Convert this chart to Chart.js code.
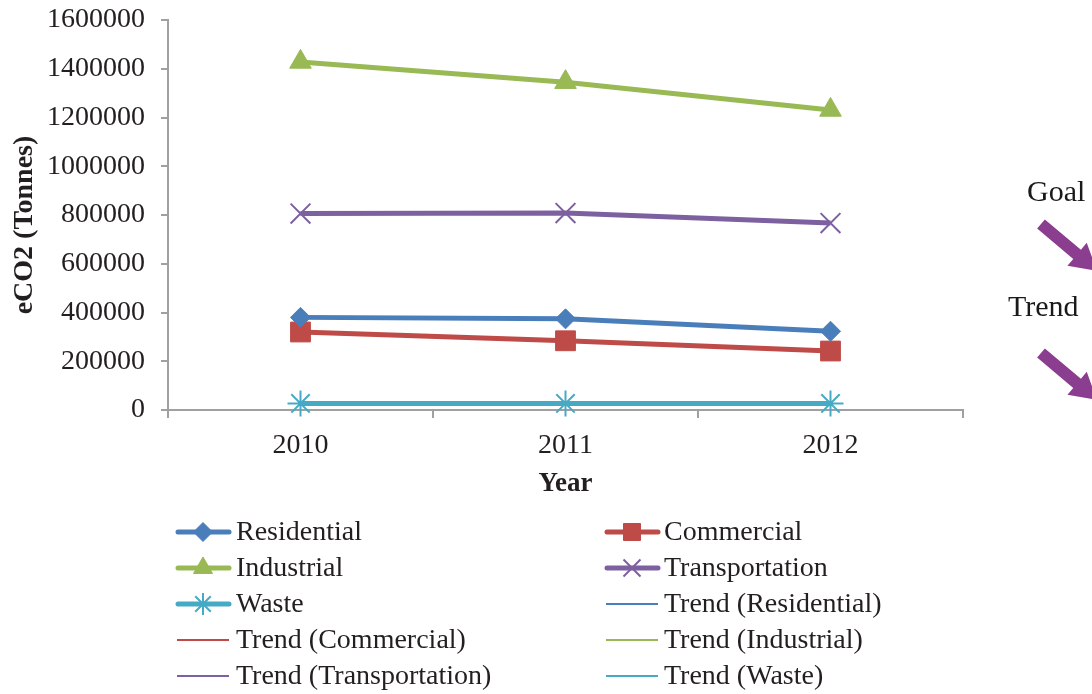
<!DOCTYPE html>
<html>
<head>
<meta charset="utf-8">
<script src="https://cdn.jsdelivr.net/npm/chart.js@4.4.0/dist/chart.umd.min.js"></script>
<style>
  html, body { margin: 0; padding: 0; background: #ffffff; }
  #wrap { width: 1092px; height: 694px; position: relative; }
</style>
</head>
<body>
<div id="wrap"><canvas id="c" width="1092" height="694"></canvas></div>
<script>
// ---- Data ----
const categories = ['2010', '2011', '2012'];
const residential = [380000, 374000, 323000];
const commercial = [320000, 284000, 242000];
const industrial = [1428000, 1345000, 1231000];
const transportation = [806000, 808000, 767000];
const waste = [27000, 27000, 27000];
const yMin = 0;
const yMax = 1600000;
const yStep = 200000;
const seriesNames = ['Residential', 'Commercial', 'Industrial', 'Transportation', 'Waste'];
const trendNames = ['Trend (Residential)', 'Trend (Commercial)', 'Trend (Industrial)', 'Trend (Transportation)', 'Trend (Waste)'];
const annotations = ['Goal', 'Trend'];
const xTitle = 'Year';
const yTitle = 'eCO2 (Tonnes)';

// ---- Styles ----
const colors = ['#4A7EBB', '#BE4B48', '#98B954', '#7D60A0', '#46AAC5'];
const markers = [
  { style: 'rectRot', r: 10, lr: 9.5, bw: 1 },
  { style: 'rect', r: 14, lr: 12, bw: 1 },
  { style: 'triangle', r: 12.5, lr: 11, bw: 1 },
  { style: 'crossRot', r: 14, lr: 12, bw: 2 },
  { style: 'star', r: 13, lr: 11, bw: 2 }
];
const seriesData = [residential, commercial, industrial, transportation, waste];
const FONT = '"Liberation Serif", "Times New Roman", serif';
const TXT = '#231F20';
const AXIS = '#A0A0A0';

const datasets = [];
seriesNames.forEach((name, i) => {
  datasets.push({
    label: name,
    data: seriesData[i],
    borderColor: colors[i],
    backgroundColor: colors[i],
    borderWidth: 5,
    pointStyle: markers[i].style,
    pointRadius: markers[i].r,
    pointHoverRadius: markers[i].r,
    pointBackgroundColor: colors[i],
    pointBorderColor: colors[i],
    pointBorderWidth: markers[i].bw,
    tension: 0,
    clip: false,
    isTrend: false,
    mk: markers[i]
  });
});
trendNames.forEach((name, i) => {
  datasets.push({
    label: name,
    data: [null, null, null],
    borderColor: colors[i],
    backgroundColor: colors[i],
    borderWidth: 2,
    pointRadius: 0,
    isTrend: true
  });
});

const overlayPlugin = {
  id: 'overlay',
  afterDraw(chart) {
    const ctx = chart.ctx;
    const area = chart.chartArea;
    ctx.save();
    // Y axis title
    ctx.save();
    ctx.translate(25, (area.top + area.bottom) / 2 + 10);
    ctx.rotate(-Math.PI / 2);
    ctx.font = 'bold 28px ' + FONT;
    ctx.fillStyle = TXT;
    ctx.textAlign = 'center';
    ctx.textBaseline = 'middle';
    ctx.fillText(yTitle, 0, 0);
    ctx.restore();
    // Legend (2 columns)
    chart.data.datasets.forEach((ds, i) => {
      const row = Math.floor(i / 2), col = i % 2;
      const x0 = col === 0 ? 176 : 605;
      const y = 532 + row * 36;
      if (ds.isTrend) {
        ctx.beginPath();
        ctx.strokeStyle = ds.borderColor;
        ctx.lineWidth = 2;
        ctx.lineCap = 'butt';
        ctx.moveTo(x0 + 1, y);
        ctx.lineTo(x0 + 53, y);
        ctx.stroke();
      } else {
        ctx.beginPath();
        ctx.strokeStyle = ds.borderColor;
        ctx.lineWidth = 5;
        ctx.lineCap = 'round';
        ctx.moveTo(x0 + 2, y);
        ctx.lineTo(x0 + 53, y);
        ctx.stroke();
        ctx.lineCap = 'butt';
        ctx.fillStyle = ds.borderColor;
        ctx.strokeStyle = ds.borderColor;
        ctx.lineWidth = ds.mk.bw;
        Chart.helpers.drawPoint(ctx, { pointStyle: ds.mk.style, radius: ds.mk.lr, rotation: 0, borderWidth: ds.mk.bw }, x0 + 27, y);
      }
      ctx.fillStyle = TXT;
      ctx.font = '28px ' + FONT;
      ctx.textBaseline = 'middle';
      ctx.textAlign = 'left';
      ctx.fillText(ds.label, x0 + (col === 0 ? 60 : 59), y + 1);
    });
    // Goal / Trend annotations
    ctx.font = '30px ' + FONT;
    ctx.fillStyle = '#1a1a1a';
    ctx.textBaseline = 'middle';
    ctx.textAlign = 'left';
    ctx.fillText(annotations[0], 1027, 193);
    ctx.fillText(annotations[1], 1008, 308);
    function arrow(x0, y0, x1, y1) {
      const a = Math.atan2(y1 - y0, x1 - x0);
      const len = Math.hypot(x1 - x0, y1 - y0);
      const headL = 26, headW = 15, shaftW = 6;
      ctx.save();
      ctx.translate(x0, y0);
      ctx.rotate(a);
      ctx.beginPath();
      ctx.moveTo(0, -shaftW);
      ctx.lineTo(len - headL, -shaftW);
      ctx.lineTo(len - headL, -headW);
      ctx.lineTo(len, 0);
      ctx.lineTo(len - headL, headW);
      ctx.lineTo(len - headL, shaftW);
      ctx.lineTo(0, shaftW);
      ctx.closePath();
      ctx.fillStyle = '#8B3D8F';
      ctx.fill();
      ctx.restore();
    }
    arrow(1041, 224, 1097, 271);
    arrow(1041, 353, 1097, 400);
    ctx.restore();
  }
};

new Chart(document.getElementById('c'), {
  type: 'line',
  data: { labels: categories, datasets: datasets },
  plugins: [overlayPlugin],
  options: {
    responsive: false,
    animation: false,
    layout: { padding: { top: 20, right: 129, left: 0, bottom: 0 } },
    plugins: { legend: { display: false }, tooltip: { enabled: false } },
    scales: {
      x: {
        type: 'category',
        offset: true,
        afterFit: s => { s.height = 284; s.paddingLeft = 0; s.paddingRight = 0; },
        grid: { display: true, offset: true, drawOnChartArea: false, drawTicks: true, tickLength: 8, color: AXIS, lineWidth: 2 },
        border: { display: true, color: AXIS, width: 2 },
        ticks: { font: { family: FONT, size: 28 }, color: TXT, padding: 11, maxRotation: 0 },
        title: { display: true, text: xTitle, font: { family: FONT, size: 27, weight: 'bold' }, color: TXT, padding: { top: 194, bottom: 194 } }
      },
      y: {
        min: yMin,
        max: yMax,
        afterFit: s => { s.width = 168; s.paddingTop = 0; s.paddingBottom = 0; },
        grid: { display: true, drawOnChartArea: false, drawTicks: true, tickLength: 7, color: AXIS, lineWidth: 2 },
        border: { display: true, color: AXIS, width: 2 },
        ticks: { stepSize: yStep, font: { family: FONT, size: 28 }, color: TXT, padding: 16,
                 callback: v => String(v) },
        title: { display: false }
      }
    }
  }
});
</script>
</body>
</html>
